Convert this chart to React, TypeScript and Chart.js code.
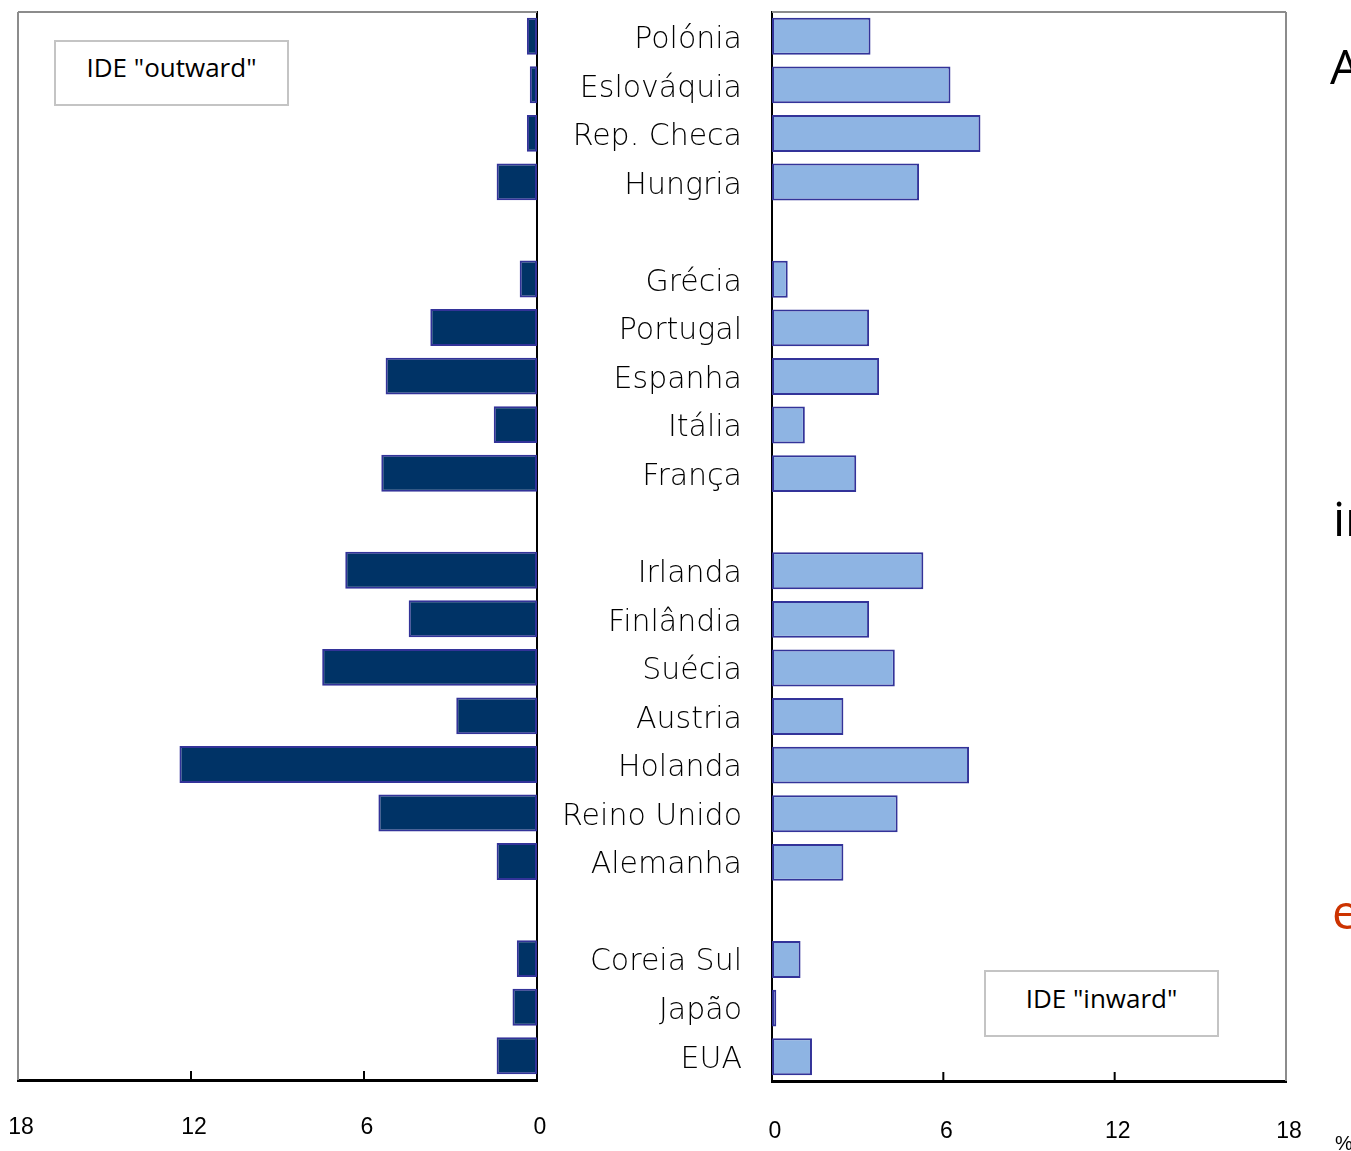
import React, { useEffect, useRef } from "react";
import { Chart, registerables } from "chart.js";

Chart.register(...registerables);

const categories = [
  "Polónia", "Eslováquia", "Rep. Checa", "Hungria", "",
  "Grécia", "Portugal", "Espanha", "Itália", "França", "",
  "Irlanda", "Finlândia", "Suécia", "Austria", "Holanda", "Reino Unido", "Alemanha", "",
  "Coreia Sul", "Japão", "EUA",
];
const outward = [0.35, 0.25, 0.35, 1.4, null, 0.6, 3.7, 5.25, 1.5, 5.4, null, 6.65, 4.45, 7.45, 2.8, 12.4, 5.5, 1.4, null, 0.7, 0.85, 1.4];
const inward = [3.45, 6.25, 7.3, 5.15, null, 0.55, 3.4, 3.75, 1.15, 2.95, null, 5.3, 3.4, 4.3, 2.5, 6.9, 4.4, 2.5, null, 1.0, 0.15, 1.4];
const xTicks = [0, 6, 12, 18];
const outwardLabel = 'IDE "outward"';
const inwardLabel = 'IDE "inward"';

const W = 1351;
const H = 1151;

function framePlugin(side: "left" | "right") {
  return {
    id: "frame" + side,
    afterDraw(chart: any) {
      const { ctx, chartArea: a, scales } = chart;
      ctx.save();
      ctx.strokeStyle = "#8c8c8c";
      ctx.lineWidth = 2;
      ctx.beginPath();
      const outerX = side === "left" ? a.left : a.right;
      ctx.moveTo(outerX, a.bottom);
      ctx.lineTo(outerX, a.top);
      ctx.moveTo(a.left, a.top);
      ctx.lineTo(a.right, a.top);
      ctx.stroke();
      ctx.strokeStyle = "#000";
      ctx.lineWidth = 2;
      ctx.beginPath();
      const xs = scales.x;
      xTicks.filter((v) => v > 0 && v < 18).forEach((v) => {
        const px = xs.getPixelForValue(v);
        ctx.moveTo(px, a.bottom);
        ctx.lineTo(px, a.bottom - 9);
      });
      ctx.stroke();
      ctx.restore();
    },
  };
}

function makeX(reverse: boolean, height: number, pad: number) {
  return {
    type: "linear",
    min: 0,
    max: 18,
    reverse,
    afterBuildTicks: (s: any) => {
      s.ticks = xTicks.map((v) => ({ value: v }));
    },
    grid: { display: false, drawTicks: false },
    border: { display: true, color: "#000", width: 3 },
    ticks: {
      font: { family: "Liberation Sans", size: 23 },
      color: "#000",
      padding: pad,
      labelOffset: 3,
      maxRotation: 0,
      autoSkip: false,
    },
    afterFit: (s: any) => {
      s.height = height;
      s.paddingLeft = 0;
      s.paddingRight = 0;
    },
  };
}

export default function App() {
  const leftRef = useRef<HTMLCanvasElement | null>(null);
  const rightRef = useRef<HTMLCanvasElement | null>(null);

  useEffect(() => {
    const left = new Chart(leftRef.current as HTMLCanvasElement, {
      type: "bar",
      data: {
        labels: categories,
        datasets: [
          {
            data: outward as any,
            backgroundColor: "#003366",
            borderColor: "#333399",
            borderWidth: 2,
            borderSkipped: false,
            barPercentage: 0.76,
            categoryPercentage: 1,
          },
        ],
      },
      options: {
        indexAxis: "y",
        animation: false,
        responsive: false,
        layout: { padding: { left: 18, top: 12, right: 0, bottom: 0 } },
        plugins: { legend: { display: false }, tooltip: { enabled: false } },
        scales: {
          x: makeX(true, 71, 34) as any,
          y: {
            type: "category",
            position: "right",
            grid: { display: false, drawTicks: false },
            border: { display: true, color: "#000", width: 2 },
            ticks: {
              autoSkip: false,
              crossAlign: "far",
              font: { family: "DejaVu Sans", size: 30, weight: 200 as any },
              color: "#000",
              padding: 0,
              labelOffset: 4,
            },
            afterFit: (s: any) => {
              s.width = 205;
              s.paddingTop = 0;
              s.paddingBottom = 0;
            },
          } as any,
        },
      },
      plugins: [framePlugin("left")],
    });

    const right = new Chart(rightRef.current as HTMLCanvasElement, {
      type: "bar",
      data: {
        labels: categories,
        datasets: [
          {
            data: inward as any,
            backgroundColor: "#8EB4E3",
            borderColor: "#333399",
            borderWidth: 2,
            borderSkipped: false,
            barPercentage: 0.76,
            categoryPercentage: 1,
          },
        ],
      },
      options: {
        indexAxis: "y",
        animation: false,
        responsive: false,
        layout: { padding: { left: 0, top: 12, right: 65, bottom: 0 } },
        plugins: { legend: { display: false }, tooltip: { enabled: false } },
        scales: {
          x: makeX(false, 70, 37) as any,
          y: {
            type: "category",
            position: "left",
            grid: { display: false, drawTicks: false },
            border: { display: true, color: "#000", width: 2 },
            ticks: { display: false },
            afterFit: (s: any) => {
              s.width = 30;
              s.paddingTop = 0;
              s.paddingBottom = 0;
            },
          } as any,
        },
      },
      plugins: [framePlugin("right")],
    });

    return () => {
      left.destroy();
      right.destroy();
    };
  }, []);

  const boxStyle: React.CSSProperties = {
    position: "absolute",
    boxSizing: "border-box",
    border: "2px solid #c4c4c4",
    background: "#fff",
    fontFamily: "'Open Sans', sans-serif",
    fontSize: 26,
    color: "#000",
    textAlign: "center",
    lineHeight: "30px",
  };

  const sideText: React.CSSProperties = {
    position: "absolute",
    fontFamily: "'Open Sans', sans-serif",
    fontSize: 48,
    lineHeight: "48px",
    whiteSpace: "nowrap",
    color: "#000",
  };

  return (
    <div
      style={{
        position: "fixed",
        left: 0,
        top: 0,
        width: W,
        height: H,
        overflow: "hidden",
        background: "#fff",
      }}
    >
      <canvas
        ref={leftRef}
        width={742}
        height={H}
        style={{ position: "absolute", left: 0, top: 0, width: 742, height: H }}
      />
      <canvas
        ref={rightRef}
        width={W - 742}
        height={H}
        style={{ position: "absolute", left: 742, top: 0, width: W - 742, height: H }}
      />
      <div style={{ ...boxStyle, left: 54, top: 40, width: 235, height: 66, paddingTop: 10 }}>{outwardLabel}</div>
      <div style={{ ...boxStyle, left: 984, top: 970, width: 235, height: 67, paddingTop: 11 }}>{inwardLabel}</div>
      <div style={{ ...sideText, left: 1330, top: 42 }}>A</div>
      <div style={{ ...sideText, left: 1333, top: 494 }}>in</div>
      <div style={{ ...sideText, left: 1332, top: 887, color: "#cc3300" }}>e</div>
      <div style={{ ...sideText, left: 1335, top: 1133, fontSize: 20, lineHeight: "20px", fontFamily: "'Liberation Sans', sans-serif" }}>%</div>
    </div>
  );
}
